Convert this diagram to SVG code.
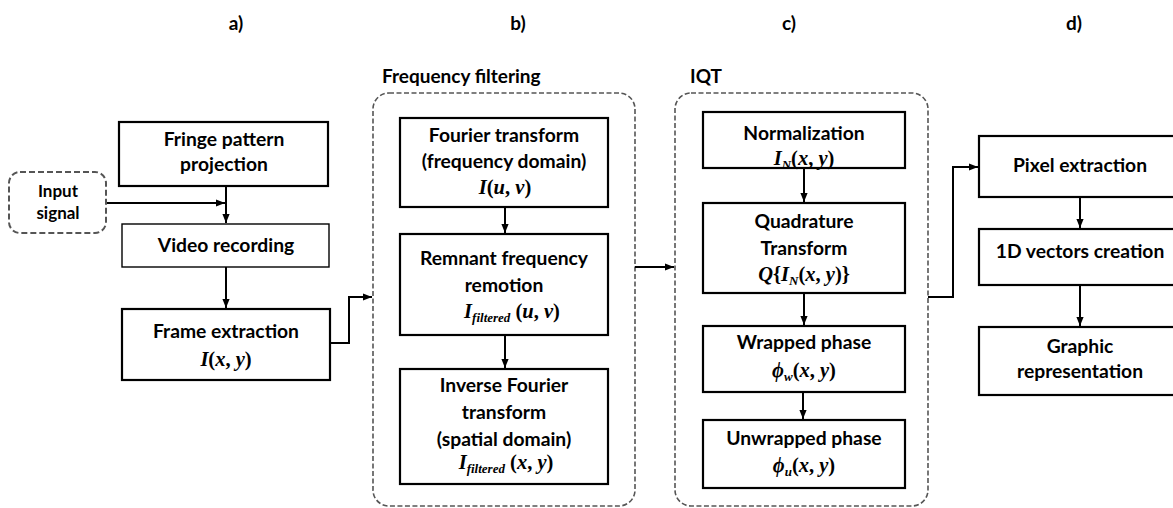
<svg xmlns="http://www.w3.org/2000/svg" width="1173" height="508" viewBox="0 0 1173 508">
  <defs>
    <marker id="arrowS" viewBox="0 0 10 10" refX="10" refY="5" markerWidth="9" markerHeight="9" orient="auto" markerUnits="userSpaceOnUse">
      <path d="M0,1 L10,5 L0,9 z" fill="#000"/>
    </marker>
    <style>
      .box { fill: #fff; stroke: #000; stroke-width: 2.2; }
      .thin { fill: #fff; stroke: #000; stroke-width: 1.4; }
      .group { fill: none; stroke: #555; stroke-width: 1.6; stroke-dasharray: 5 2.5; }
      .dash { fill: #fff; stroke: #555; stroke-width: 2; stroke-dasharray: 6 3; }
      .t { font-family: Lato, "Liberation Sans", sans-serif; font-weight: bold; font-size: 19.3px; fill: #000; text-anchor: middle; }
      .ts { font-family: Lato, "Liberation Sans", sans-serif; font-weight: bold; font-size: 17px; fill: #000; text-anchor: middle; }
      .h { font-family: Lato, "Liberation Sans", sans-serif; font-weight: bold; font-size: 19px; fill: #000; }
      .m { font-family: "Liberation Serif", "DejaVu Serif", serif; font-weight: bold; font-size: 20.5px; fill: #000; text-anchor: middle; }
      .i { font-style: italic; }
      .sub { font-style: italic; font-size: 13px; }
      .wire { fill: none; stroke: #000; stroke-width: 2; }
    </style>
  </defs>

  <!-- column headings -->
  <g id="headings">
    <text class="h" x="236" y="30" text-anchor="middle">a)</text>
    <text class="h" x="518" y="30" text-anchor="middle">b)</text>
    <text class="h" x="789" y="30" text-anchor="middle">c)</text>
    <text class="h" x="1074" y="30" text-anchor="middle">d)</text>
  </g>

  <!-- dashed stage containers -->
  <g id="freq-filtering">
    <text class="h" x="382" y="83" font-size="18.3">Frequency filtering</text>
    <rect class="group" x="373" y="93" width="262" height="413" rx="16"/>
  </g>
  <g id="iqt">
    <text class="h" x="690" y="83" font-size="18.3">IQT</text>
    <rect class="group" x="675" y="93" width="253" height="413" rx="16"/>
  </g>

  <!-- connectors -->
  <g id="connectors">
    <line class="wire" x1="106" y1="203" x2="225" y2="203" marker-end="url(#arrowS)"/>
    <line class="wire" x1="226" y1="186" x2="226" y2="223" marker-end="url(#arrowS)"/>
    <line class="wire" x1="226" y1="267" x2="226" y2="308" marker-end="url(#arrowS)"/>
    <polyline class="wire" points="330,343 349,343 349,297 372,297" marker-end="url(#arrowS)"/>
    <line class="wire" x1="505" y1="207" x2="505" y2="233" marker-end="url(#arrowS)"/>
    <line class="wire" x1="505" y1="335" x2="505" y2="368" marker-end="url(#arrowS)"/>
    <line class="wire" x1="635" y1="267" x2="674" y2="267" marker-end="url(#arrowS)"/>
    <line class="wire" x1="804" y1="168" x2="804" y2="202" marker-end="url(#arrowS)"/>
    <line class="wire" x1="804" y1="293" x2="804" y2="325" marker-end="url(#arrowS)"/>
    <line class="wire" x1="803" y1="392" x2="803" y2="419" marker-end="url(#arrowS)"/>
    <polyline class="wire" points="928,297 953,297 953,167 978,167" marker-end="url(#arrowS)"/>
    <line class="wire" x1="1080" y1="197" x2="1080" y2="228" marker-end="url(#arrowS)"/>
    <line class="wire" x1="1080" y1="285" x2="1080" y2="326" marker-end="url(#arrowS)"/>
  </g>

  <!-- a) acquisition -->
  <g id="input-signal">
    <rect class="dash" x="9" y="172" width="97" height="61" rx="11"/>
    <text class="ts" x="58" y="197">Input</text>
    <text class="ts" x="58" y="219">signal</text>
  </g>
  <g id="fringe-projection">
    <rect class="box" x="119" y="122" width="209" height="64"/>
    <text class="t" x="224" y="146">Fringe pattern</text>
    <text class="t" x="224" y="171">projection</text>
  </g>
  <g id="video-recording">
    <rect class="thin" x="122" y="224" width="207" height="43"/>
    <text class="t" x="226" y="252">Video recording</text>
  </g>
  <g id="frame-extraction">
    <rect class="box" x="122" y="309" width="208" height="71"/>
    <text class="t" x="226" y="338">Frame extraction</text>
    <text class="m" x="226" y="366"><tspan class="i">I</tspan>(<tspan class="i">x</tspan>, <tspan class="i">y</tspan>)</text>
  </g>

  <!-- b) frequency filtering -->
  <g id="fourier">
    <rect class="box" x="400" y="118" width="208" height="89"/>
    <text class="t" x="504" y="142">Fourier transform</text>
    <text class="t" x="504" y="168">(frequency domain)</text>
    <text class="m" x="505" y="194"><tspan class="i">I</tspan>(<tspan class="i">u</tspan>, <tspan class="i">v</tspan>)</text>
  </g>
  <g id="remnant">
    <rect class="box" x="400" y="234" width="208" height="101"/>
    <text class="t" x="504" y="265">Remnant frequency</text>
    <text class="t" x="504" y="292">remotion</text>
    <text class="m" x="512" y="318"><tspan class="i">I</tspan><tspan class="sub" dy="4">filtered</tspan><tspan dy="-4"> (</tspan><tspan class="i">u</tspan>, <tspan class="i">v</tspan>)</text>
  </g>
  <g id="inverse-fourier">
    <rect class="box" x="400" y="369" width="208" height="115"/>
    <text class="t" x="504" y="392">Inverse Fourier</text>
    <text class="t" x="504" y="419">transform</text>
    <text class="t" x="504" y="446">(spatial domain)</text>
    <text class="m" x="506" y="469"><tspan class="i">I</tspan><tspan class="sub" dy="4">filtered</tspan><tspan dy="-4"> (</tspan><tspan class="i">x</tspan>, <tspan class="i">y</tspan>)</text>
  </g>

  <!-- c) IQT -->
  <g id="normalization">
    <rect class="box" x="703" y="112" width="202" height="56"/>
    <text class="t" x="804" y="140">Normalization</text>
    <text class="m" x="804" y="165"><tspan class="i">I</tspan><tspan class="sub" dy="4">N</tspan><tspan dy="-4">(</tspan><tspan class="i">x</tspan>, <tspan class="i">y</tspan>)</text>
  </g>
  <g id="quadrature">
    <rect class="box" x="703" y="203" width="202" height="90"/>
    <text class="t" x="804" y="228">Quadrature</text>
    <text class="t" x="804" y="255">Transform</text>
    <text class="m" x="804" y="281"><tspan class="i">Q</tspan>{<tspan class="i">I</tspan><tspan class="sub" dy="4">N</tspan><tspan dy="-4">(</tspan><tspan class="i">x</tspan>, <tspan class="i">y</tspan>)}</text>
  </g>
  <g id="wrapped-phase">
    <rect class="box" x="703" y="326" width="202" height="66"/>
    <text class="t" x="804" y="349">Wrapped phase</text>
    <text class="m" x="804" y="377"><tspan class="i">ϕ</tspan><tspan class="sub" dy="4">w</tspan><tspan dy="-4">(</tspan><tspan class="i">x</tspan>, <tspan class="i">y</tspan>)</text>
  </g>
  <g id="unwrapped-phase">
    <rect class="box" x="703" y="420" width="202" height="68"/>
    <text class="t" x="804" y="445">Unwrapped phase</text>
    <text class="m" x="804" y="472"><tspan class="i">ϕ</tspan><tspan class="sub" dy="4">u</tspan><tspan dy="-4">(</tspan><tspan class="i">x</tspan>, <tspan class="i">y</tspan>)</text>
  </g>

  <!-- d) output -->
  <g id="pixel-extraction">
    <rect class="box" x="979" y="136" width="202" height="61"/>
    <text class="t" x="1080" y="172">Pixel extraction</text>
  </g>
  <g id="vectors-1d">
    <rect class="box" x="979" y="229" width="202" height="56"/>
    <text class="t" x="1080" y="258">1D vectors creation</text>
  </g>
  <g id="graphic-representation">
    <rect class="box" x="979" y="327" width="202" height="68"/>
    <text class="t" x="1080" y="353">Graphic</text>
    <text class="t" x="1080" y="378">representation</text>
  </g>
</svg>
